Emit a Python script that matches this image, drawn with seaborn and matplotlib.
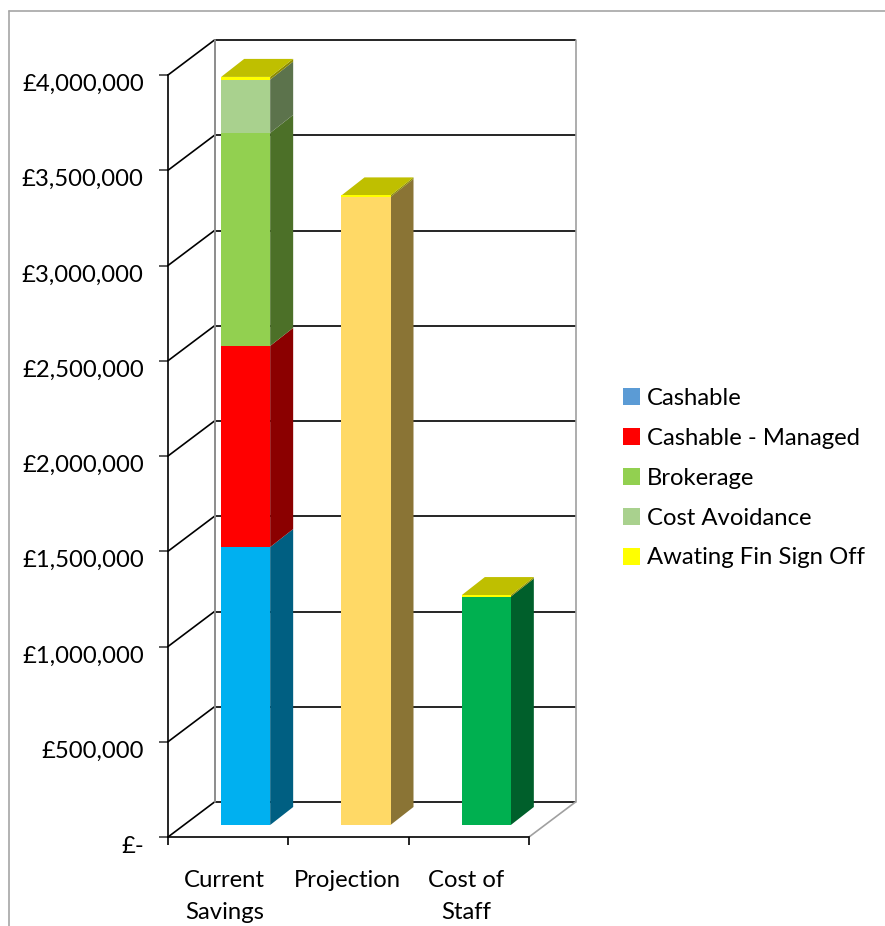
import numpy as np
import matplotlib
matplotlib.use("Agg")
import matplotlib.pyplot as plt
import seaborn as sns
from matplotlib.lines import Line2D
from matplotlib.patches import Patch, Polygon
from matplotlib.transforms import Affine2D

# Savings by category (GBP)
categories = ["Current\nSavings", "Projection", "Cost of\nStaff"]
series_names = ["Cashable", "Cashable - Managed", "Brokerage", "Cost Avoidance", "Awating Fin Sign Off"]
cashable = [1459000, 3297000, 1199000]
cashable_managed = [1056000, 0, 0]
brokerage = [1118000, 0, 0]
cost_avoidance = [280000, 0, 0]
awaiting_sign_off = [14000, 8000, 8000]
y_ticks = [0, 500000, 1000000, 1500000, 2000000, 2500000, 3000000, 3500000, 4000000]
y_labels = ["£-", "£500,000", "£1,000,000", "£1,500,000", "£2,000,000",
            "£2,500,000", "£3,000,000", "£3,500,000", "£4,000,000"]

# Colours: front face and shaded side face per segment, per bar
legend_colors = ["#5B9BD5", "#FF0000", "#92D050", "#A9D18E", "#FFFF00"]
front_colors = [["#00B0F0", "#FFD966", "#00B050"], ["#FF0000"] * 3, ["#92D050"] * 3,
                ["#A9D18E"] * 3, ["#FFFF00"] * 3]
side_colors = [["#005F82", "#8A7435", "#005F2B"], ["#8B0000"] * 3, ["#4C7028"] * 3,
               ["#5C734C"] * 3, ["#8C8C00"] * 3]
top_color = "#BFBF00"

W, H, DPI = 885, 926, 100
sns.set_theme(style="white")
plt.rcParams["font.family"] = ["Lato", "DejaVu Sans"]
FONT = 17.2

fig = plt.figure(figsize=(W / DPI, H / DPI), dpi=DPI, facecolor="white")
ax = fig.add_axes([168 / W, (H - 837) / H, 361 / W, 762 / H])
ax.set_facecolor("none")
XPX = 120.33            # pixels per category
YPX = 4000000 / 762     # value per pixel

# Chart frame
fig.add_artist(Line2D([8.5 / W, 8.5 / W], [0, 1 - 10.5 / H], color="#A6A6A6", lw=1.2))
fig.add_artist(Line2D([8.5 / W, 1], [1 - 10.5 / H, 1 - 10.5 / H], color="#A6A6A6", lw=1.2))

# Back wall, side wall and floor of the 3-D box
wall_dx, wall_dy = 46.5 / XPX, 35 * YPX
x0, x1 = -0.5, 2.5
for y in y_ticks:
    ax.plot([x0 + wall_dx, x1 + wall_dx], [y + wall_dy] * 2, color="black", lw=1.2,
            clip_on=False, zorder=1, solid_capstyle="butt")
    ax.plot([x0, x0 + wall_dx], [y, y + wall_dy], color="black", lw=1.2,
            clip_on=False, zorder=1)
ax.plot([x0 + wall_dx] * 2, [wall_dy, 4000000 + wall_dy], color="#8C8C8C", lw=1.4,
        clip_on=False, zorder=1.1)
ax.plot([x1 + wall_dx] * 2, [wall_dy, 4000000 + wall_dy], color="#A0A0A0", lw=1.2,
        clip_on=False, zorder=1.1)
ax.plot([x1, x1 + wall_dx], [0, wall_dy], color="#A0A0A0", lw=1.2, clip_on=False, zorder=1.1)

# Bars sit part-way into the box depth
bar_plane = ax.transData + Affine2D().translate(17.5, 12)
bar_width = 49 / XPX
bar_dx, bar_dy = 23 / XPX, 18 * YPX

stack = [cashable, cashable_managed, brokerage, cost_avoidance, awaiting_sign_off]
bottoms = np.zeros(3)
for s, values in enumerate(stack):
    values = np.array(values, dtype=float)
    before = len(ax.patches)
    sns.barplot(x=categories, y=values, bottom=bottoms, width=bar_width, saturation=1,
                color="white", errorbar=None, ax=ax, linewidth=0, zorder=4)
    for i, patch in enumerate(ax.patches[before:]):
        patch.set_facecolor(front_colors[s][i])
        patch.set_transform(bar_plane)
        patch.set_clip_on(False)
        if values[i] > 0:
            xr = i + bar_width / 2
            side = [(xr, bottoms[i]), (xr + bar_dx, bottoms[i] + bar_dy),
                    (xr + bar_dx, bottoms[i] + values[i] + bar_dy), (xr, bottoms[i] + values[i])]
            ax.add_patch(Polygon(side, closed=True, fc=side_colors[s][i], ec="none",
                                 transform=bar_plane, clip_on=False, zorder=3))
    bottoms = bottoms + values

for i, total in enumerate(bottoms):
    xl, xr = i - bar_width / 2, i + bar_width / 2
    lid = [(xl, total), (xr, total), (xr + bar_dx, total + bar_dy), (xl + bar_dx, total + bar_dy)]
    ax.add_patch(Polygon(lid, closed=True, fc=top_color, ec="none",
                         transform=bar_plane, clip_on=False, zorder=3.5))

# Axes, ticks and labels
ax.set_xlim(x0, x1)
ax.set_ylim(0, 4000000)
ax.set_xlabel("")
ax.set_ylabel("")
for name in ("top", "right"):
    ax.spines[name].set_visible(False)
for name in ("left", "bottom"):
    ax.spines[name].set_color("black")
    ax.spines[name].set_linewidth(1.2)
    ax.spines[name].set_zorder(2)
ax.set_xticks([-0.5, 0.5, 1.5, 2.5], labels=[])
ax.set_xticks([-0.03, 0.99, 1.98], labels=categories, minor=True)
ax.set_yticks(y_ticks, labels=y_labels)
ax.tick_params(axis="x", which="major", length=6, width=1.2, color="black", bottom=True)
ax.tick_params(axis="x", which="minor", length=0, pad=23.5, labelsize=FONT, labelcolor="black")
ax.tick_params(axis="y", length=6.5, width=1.2, color="#404040", left=True, pad=11,
               labelsize=FONT, labelcolor="black")
for lab in ax.get_yticklabels():
    lab.set_transform(lab.get_transform() + Affine2D().translate(0, -7.5))
for lab in ax.get_xticklabels(minor=True):
    lab.set_linespacing(1.68)

handles = [Patch(facecolor=c, edgecolor="none", label=n) for c, n in zip(legend_colors, series_names)]
leg = fig.legend(handles=handles, loc="upper left", bbox_to_anchor=(623 / W, 1 - 388 / H),
                 frameon=False, fontsize=FONT, borderpad=0, borderaxespad=0, labelcolor="black",
                 handlelength=0.71, handleheight=0.71, handletextpad=0.3, labelspacing=0.79)

fig.savefig("out.png", dpi=DPI, facecolor="white")
